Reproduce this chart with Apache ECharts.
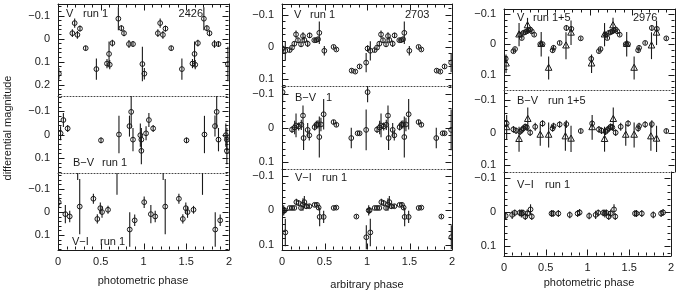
<!DOCTYPE html>
<html><head><meta charset="utf-8">
<script src="https://cdn.jsdelivr.net/npm/echarts@6/dist/echarts.min.js"></script>
<style>html,body{margin:0;padding:0;background:#fff}#c{width:677px;height:291px}</style>
</head><body><div id="c"></div>
<script>
// ---- data: [phase, differential magnitude, error] for phase 0..1 (plotted twice, phase and phase+1)
const p1_V = [[0.01,0.153,0.025],[0.168,-0.023,0.017],[0.195,-0.067,0.02],[0.227,-0.016,0.017],[0.257,-0.043,0.013],[0.324,0.042,0.01],[0.449,0.133,0.046],[0.573,0.109,0.02],[0.597,0.067,0.054],[0.605,0.114,0.02],[0.636,0.02,0.015],[0.706,-0.086,0.05],[0.741,-0.045,0.013],[0.772,-0.023,0.013],[0.83,0.024,0.017],[0.877,0.024,0.013],[0.987,0.111,0.075]];
const p1_BV = [[0.03,-0.005,0.03],[0.063,-0.062,0.03],[0.113,-0.026,0.015],[0.503,0.025,0.012],[0.713,0,0.08],[0.836,-0.036,0.045],[0.856,-0.097,0.07],[0.877,0.022,0.05],[0.963,0.003,0.05],[0.975,0.022,0.05],[0.975,0.07,0.058]];
const p1_VI = [[0.008,-0.043,0.025],[0.086,0.009,0.04],[0.137,0.019,0.025],[0.23,-0.22,0.08],[0.254,-0.024,0.12],[0.414,-0.058,0.022],[0.46,0.03,0.02],[0.495,-0.017,0.025],[0.515,0,0.025],[0.585,-0.01,0.017],[0.69,-0.19,0.115],[0.839,0.076,0.075],[0.897,0.036,0.025]];
const p2_V = [[0.007,0.005,0.01],[0.039,0.012,0.03],[0.09,0.01,0.006],[0.118,0.002,0.006],[0.145,-0.01,0.008],[0.165,-0.039,0.012],[0.188,-0.021,0.008],[0.224,-0.008,0.008],[0.247,-0.034,0.012],[0.262,-0.022,0.01],[0.302,-0.01,0.01],[0.325,-0.036,0.008],[0.38,-0.021,0.005],[0.4,-0.021,0.005],[0.424,-0.024,0.008],[0.439,-0.044,0.035],[0.498,0.012,0.015],[0.607,0,0.005],[0.639,0.008,0.005],[0.82,0.074,0.006],[0.862,0.077,0.005],[0.913,0.061,0.006],[0.99,0.049,0.03]];
const p2_BV = [[0.007,-0.106,0.03],[0.118,0.004,0.01],[0.149,-0.002,0.02],[0.165,-0.008,0.035],[0.196,-0.005,0.012],[0.227,-0.01,0.015],[0.247,-0.037,0.03],[0.254,0.029,0.035],[0.302,0.005,0.02],[0.321,0.021,0.015],[0.384,-0.003,0.01],[0.404,-0.01,0.012],[0.423,-0.011,0.012],[0.439,0.026,0.06],[0.458,-0.011,0.02],[0.49,-0.041,0.045],[0.607,-0.018,0.006],[0.639,-0.01,0.006],[0.815,0.029,0.03],[0.89,0.015,0.005],[0.913,0.015,0.005],[0.99,0.005,0.06]];
const p2_VI = [[0.02,0,0.015],[0.031,0,0.01],[0.039,0.064,0.04],[0.09,-0.007,0.005],[0.118,-0.007,0.005],[0.145,-0.007,0.005],[0.169,-0.024,0.01],[0.196,-0.021,0.008],[0.224,-0.007,0.006],[0.247,-0.017,0.018],[0.263,-0.024,0.018],[0.286,-0.012,0.008],[0.322,-0.012,0.006],[0.384,-0.016,0.005],[0.412,-0.016,0.005],[0.431,-0.008,0.006],[0.443,0.019,0.027],[0.49,0.019,0.018],[0.608,-0.007,0.005],[0.639,-0.008,0.005],[0.875,0.018,0.005],[0.992,0.078,0.035]];
const p3_V_run1 = [[0.02,0.048,0.01],[0.11,0.023,0.006],[0.129,0.016,0.006],[0.188,-0.031,0.008],[0.208,-0.02,0.006],[0.227,-0.037,0.006],[0.247,-0.039,0.006],[0.267,-0.042,0.006],[0.286,-0.045,0.006],[0.306,-0.048,0.006],[0.325,-0.042,0.006],[0.353,-0.031,0.006],[0.424,0,0.006],[0.451,0,0.006],[0.569,0.02,0.008],[0.58,0.012,0.008],[0.651,-0.004,0.006],[0.729,-0.053,0.01],[0.788,-0.05,0.008],[0.898,-0.019,0.006]];
const p3_V_run5 = [[0.024,0.064,0.03],[0.176,-0.031,0.038],[0.275,-0.061,0.025],[0.435,0,0.04],[0.522,0.078,0.038],[0.725,0.005,0.044],[0.784,-0.037,0.04]];
const p3_BV_run1 = [[0.031,-0.028,0.01],[0.11,-0.01,0.01],[0.141,-0.006,0.01],[0.188,-0.003,0.01],[0.208,-0.008,0.01],[0.227,-0.013,0.01],[0.247,-0.018,0.01],[0.267,-0.016,0.01],[0.306,0,0.01],[0.365,-0.018,0.012],[0.451,-0.028,0.01],[0.569,-0.013,0.01],[0.58,-0.02,0.01],[0.651,-0.025,0.01],[0.729,-0.026,0.012],[0.898,-0.005,0.008]];
const p3_BV_run5 = [[0.031,-0.016,0.038],[0.176,0.02,0.038],[0.278,-0.041,0.036],[0.424,0.007,0.033],[0.522,0.007,0.038],[0.718,0.012,0.043],[0.784,0.019,0.04]];
const p3_VI = [[0.02,0.011,0.01],[0.098,0.008,0.012],[0.129,0.002,0.01],[0.188,0.002,0.01],[0.208,0.004,0.012],[0.227,0.002,0.01],[0.255,0.013,0.01],[0.278,0.004,0.012],[0.318,-0.008,0.015],[0.333,0.013,0.01],[0.569,0.004,0.01],[0.588,0.004,0.01],[0.651,0.004,0.01],[0.788,0.008,0.01],[0.882,0.004,0.01],[0.906,0.001,0.01]];

// ---- tick values / labels
const xMajorTicks = [0, 0.5, 1, 1.5, 2];
const xMinorTicks = [0.1,0.2,0.3,0.4,0.6,0.7,0.8,0.9,1.1,1.2,1.3,1.4,1.6,1.7,1.8,1.9];
const yMajorTicks = [-0.1, 0, 0.1, 0.2];
const yMinorTicks = [-0.16,-0.14,-0.12,-0.08,-0.06,-0.04,-0.02,0.02,0.04,0.06,0.08,0.12,0.14,0.16,0.18,0.22,0.24];
const xTitles = ['photometric phase', 'arbitrary phase', 'photometric phase'];
const yTitle = 'differential magnitude';

// ---- layout: per panel, sub-panels [top, height, min, max]
const layout = [
  {left:58, width:171, title:[143,281], subs:[[4,92,-0.15,0.25],[96,77,-0.165,0.165],[173,77,-0.17,0.165]]},
  {left:282, width:170, title:[367,285], subs:[[4,82,-0.134,0.122],[86,83,-0.124,0.12],[169,81,-0.12,0.115]]},
  {left:504, width:171, title:[589,283], subs:[[9,81,-0.115,0.15],[90,82,-0.13,0.12],[172,84,-0.118,0.129]]}
];
const seriesDefs = [
  [0,0,p1_V,'c'],[0,1,p1_BV,'c'],[0,2,p1_VI,'c'],
  [1,0,p2_V,'c'],[1,1,p2_BV,'c'],[1,2,p2_VI,'c'],
  [2,0,p3_V_run1,'c'],[2,0,p3_V_run5,'t'],[2,1,p3_BV_run1,'c'],[2,1,p3_BV_run5,'t'],[2,2,p3_VI,'c']
];

const INK = '#1a1a1a';
const FONT = 'Liberation Sans, Arial, Helvetica, sans-serif';
const solid = {color: INK, width: 1};
const dotted = {color: '#444', width: 1, type: [1, 2]};
const inRange = (arr, lo, hi) => arr.filter(v => v >= lo - 1e-9 && v <= hi + 1e-9);
const fmt = v => v === 0 ? '0' : (v < 0 ? '\u2212' + String(+(-v).toFixed(2)) : String(+v.toFixed(2)));
const line = (show, style) => ({show: show, onZero: false, lineStyle: style || solid});

const grids = [], xAxes = [], yAxes = [], series = [];
const axisIdx = {};
layout.forEach((P, pi) => P.subs.forEach((S, si) => {
  const gi = grids.length;
  grids.push({left: P.left, top: S[0], width: P.width, height: S[1], containLabel: false});
  const isTop = si === 0, isBot = si === 2;
  const xb = {gridIndex: gi, type: 'value', min: 0, max: 2, splitLine: {show: false}, axisTick: {show: false}, silent: true};
  const yb = {gridIndex: gi, type: 'value', min: S[2], max: S[3], inverse: true, splitLine: {show: false}, axisTick: {show: false}, silent: true};
  const xi = xAxes.length, yi = yAxes.length;
  axisIdx[pi + '_' + si] = [xi, yi];
  xAxes.push(Object.assign({}, xb, {position: 'bottom',
    axisLine: line(true, isBot ? solid : dotted),
    axisLabel: isBot ? {show: true, customValues: xMajorTicks, formatter: fmt, margin: 6, fontSize: 11, color: INK, fontFamily: FONT} : {show: false}}));
  if (isTop) xAxes.push(Object.assign({}, xb, {position: 'top', axisLine: line(true), axisLabel: {show: false}}));
  const maj = inRange(yMajorTicks, S[2], S[3]);
  const mnr = inRange(yMinorTicks, S[2], S[3]);
  yAxes.push(Object.assign({}, yb, {position: 'left', axisLine: line(true),
    axisLabel: {show: true, customValues: maj, formatter: fmt, margin: 8, fontSize: 11, color: INK, fontFamily: FONT}}));
  yAxes.push(Object.assign({}, yb, {position: 'right', axisLine: line(true), axisLabel: {show: false}}));
  // tick marks: [axis (0=x,1=y), value, length, sides (1 = bottom/left, 2 = top/right, 3 = both)]
  const xs = (isBot ? 1 : 0) + (isTop ? 2 : 0);
  const ticks = [];
  if (xs) {
    xMajorTicks.forEach(v => ticks.push([0, v, 6, xs]));
    xMinorTicks.forEach(v => ticks.push([0, v, 3, xs]));
  }
  maj.forEach(v => ticks.push([1, v, 6, 3]));
  mnr.forEach(v => ticks.push([1, v, 3, 3]));
  series.push({type: 'custom', xAxisIndex: xi, yAxisIndex: yi, clip: false, silent: true,
    data: ticks, renderItem: tickItem(S[2])});
}));

function tickItem(ymin) {
  return function (params, api) {
    const cs = params.coordSys;
    const ax = api.value(0), v = api.value(1), len = api.value(2), sides = api.value(3);
    const kids = [];
    const st = {stroke: INK, lineWidth: 1};
    if (ax === 1) {
      const yy = Math.round(api.coord([0, v])[1]) + 0.5;
      const x0 = Math.round(cs.x) + 0.5, x1 = Math.round(cs.x + cs.width) - 0.5;
      if (sides & 1) kids.push({type: 'line', shape: {x1: x0, y1: yy, x2: x0 + len, y2: yy}, style: st});
      if (sides & 2) kids.push({type: 'line', shape: {x1: x1, y1: yy, x2: x1 - len, y2: yy}, style: st});
    } else {
      const xx = Math.round(api.coord([v, ymin])[0]) + 0.5;
      const y0 = Math.round(cs.y + cs.height) - 0.5, y1 = Math.round(cs.y) + 0.5;
      if (sides & 1) kids.push({type: 'line', shape: {x1: xx, y1: y0, x2: xx, y2: y0 - len}, style: st});
      if (sides & 2) kids.push({type: 'line', shape: {x1: xx, y1: y1, x2: xx, y2: y1 + len}, style: st});
    }
    return {type: 'group', children: kids};
  };
}

function renderItem(marker) {
  return function (params, api) {
    const x = api.value(0), y = api.value(1), e = api.value(2);
    const p = api.coord([x, y]);
    const a = api.coord([x, y - e]), b = api.coord([x, y + e]);
    const kids = [{type: 'line', shape: {x1: p[0], y1: a[1], x2: p[0], y2: b[1]}, style: {stroke: INK, lineWidth: 1.1}}];
    if (marker === 't') {
      kids.push({type: 'polygon', shape: {points: [[p[0], p[1] - 3.8], [p[0] - 3.3, p[1] + 2.3], [p[0] + 3.3, p[1] + 2.3]]},
        style: {fill: 'none', stroke: INK, lineWidth: 1}});
    } else {
      kids.push({type: 'circle', shape: {cx: p[0], cy: p[1], r: 2.4}, style: {fill: 'none', stroke: INK, lineWidth: 1}});
    }
    return {type: 'group', children: kids};
  };
}
seriesDefs.forEach(([pi, si, arr, mk]) => {
  const [xi, yi] = axisIdx[pi + '_' + si];
  const data = arr.map(d => [d[0], d[1], d[2]]).concat(arr.map(d => [d[0] + 1, d[1], d[2]]));
  series.push({type: 'custom', xAxisIndex: xi, yAxisIndex: yi, clip: true, silent: true,
    encode: {x: 0, y: 1}, data: data, renderItem: renderItem(mk)});
});

const T = (text, x, y, extra) => Object.assign({type: 'text', x: x, y: y,
  style: Object.assign({text: text, fill: INK, font: '11px ' + FONT, textVerticalAlign: 'middle'}, extra || {})});
const graphics = [
  T('V', 66, 14), T('run 1', 83, 14), T('2426', 203, 14, {textAlign: 'right'}),
  T('B\u2212V', 73, 163), T('run 1', 102, 163),
  T('V\u2212I', 72, 242), T('run 1', 100, 242),
  T('V', 294, 15), T('run 1', 310, 15), T('2703', 405, 15),
  T('B\u2212V', 295, 98), T('1', 326, 98),
  T('V\u2212I', 295, 178), T('run 1', 322, 178),
  T('V', 517, 18), T('run 1+5', 533, 18), T('2976', 633, 18),
  T('B\u2212V', 517, 101), T('run 1+5', 548, 101),
  T('V\u2212I', 517, 185), T('run 1', 545, 185)
];
layout.forEach((P, pi) => graphics.push(T(xTitles[pi], P.title[0], P.title[1], {textAlign: 'center'})));
graphics.push({type: 'text', x: 8, y: 128, rotation: Math.PI / 2,
  style: {text: yTitle, fill: INK, font: '11px ' + FONT, textAlign: 'center', textVerticalAlign: 'middle'}});

const chart = echarts.init(document.getElementById('c'), null, {renderer: 'canvas'});
chart.setOption({animation: false, backgroundColor: '#fff', grid: grids, xAxis: xAxes, yAxis: yAxes, series: series, graphic: graphics});
</script>
</body></html>
